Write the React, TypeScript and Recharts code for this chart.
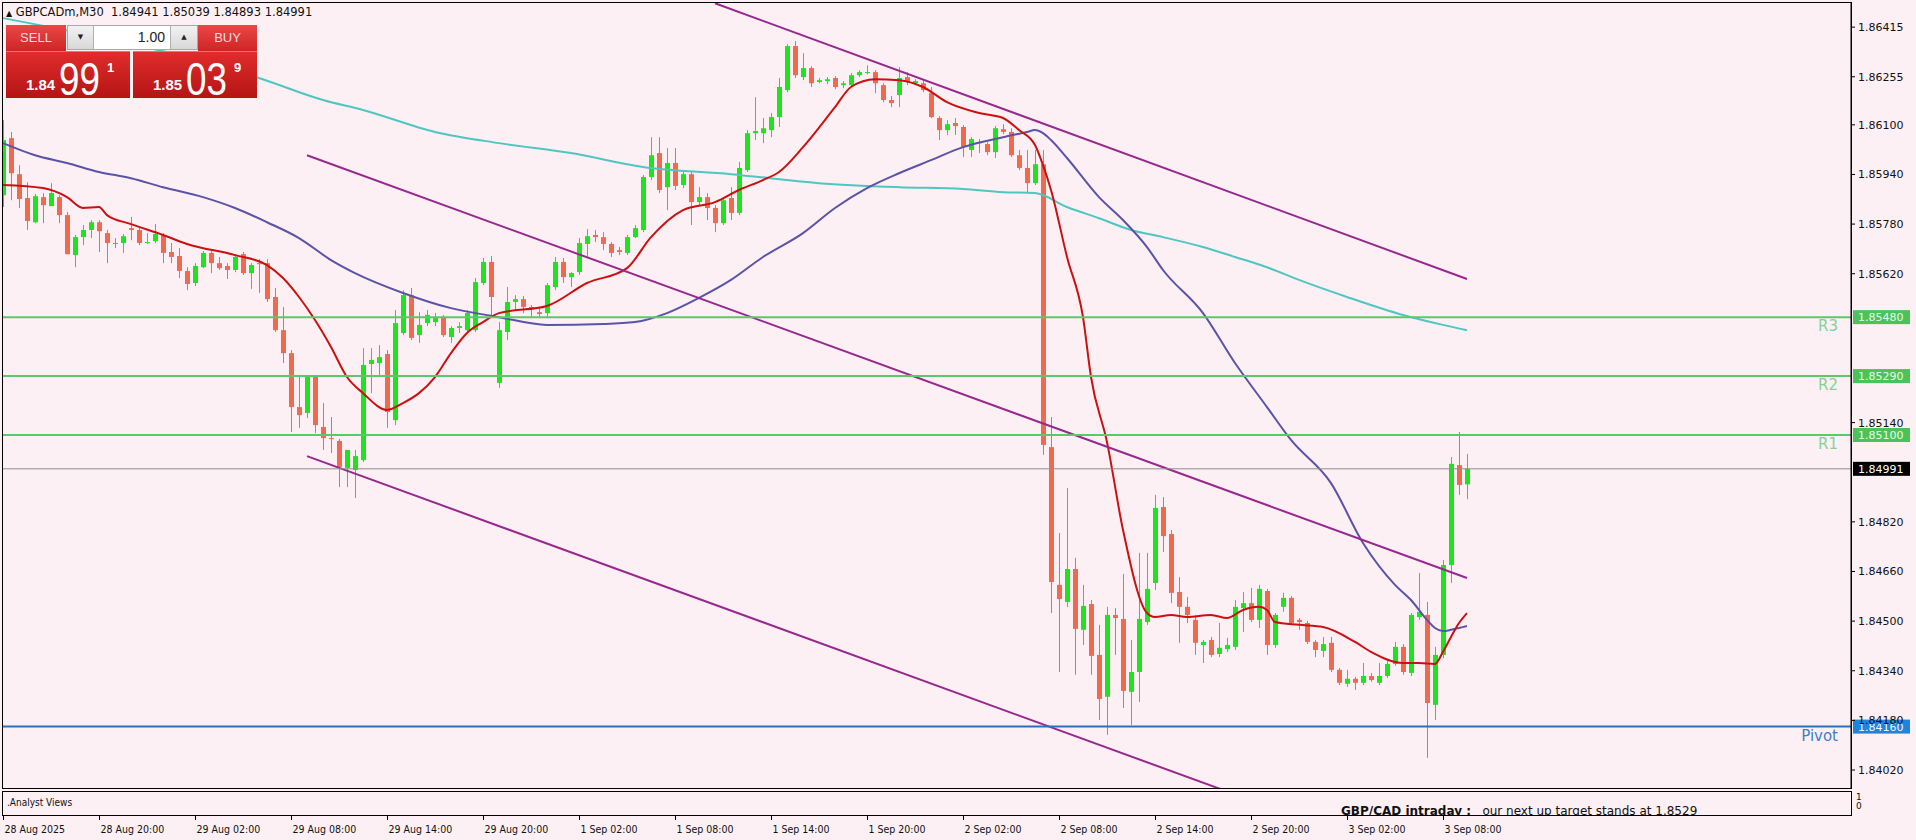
import { ComposedChart, Bar, Line, XAxis, YAxis, ReferenceLine } from "recharts";

// ---- candles (M30), index 0 = 28 Aug 14:00
const OPEN = [
  1.85873,1.86057,1.85941,1.85864,1.85786,1.85867,1.85838,1.85867,1.85809,1.85680,1.85738,1.85761,
  1.85786,1.85751,1.85719,1.85719,1.85767,1.85761,1.85719,1.85725,1.85745,1.85690,1.85677,1.85629,
  1.85590,1.85641,1.85687,1.85654,1.85645,1.85632,1.85683,1.85622,1.85654,1.85654,1.85545,1.85438,
  1.85364,1.85190,1.85171,1.85287,1.85126,1.85090,1.85081,1.84994,1.84987,1.85019,1.85329,1.85332,
  1.85361,1.85148,1.85429,1.85551,1.85422,1.85461,1.85464,1.85480,1.85416,1.85445,1.85438,1.85438,
  1.85590,1.85658,1.85268,1.85432,1.85529,1.85538,1.85513,1.85496,1.85493,1.85577,1.85658,1.85609,
  1.85625,1.85716,1.85745,1.85738,1.85716,1.85696,1.85687,1.85738,1.85761,1.85932,1.86009,1.85899,
  1.85977,1.85906,1.85941,1.85851,1.85867,1.85832,1.85783,1.85864,1.85816,1.85954,1.86073,1.86073,
  1.86083,1.86125,1.86212,1.86354,1.86254,1.86283,1.86238,1.86241,1.86251,1.86228,1.86228,1.86260,
  1.86267,1.86270,1.86228,1.86180,1.86196,1.86254,1.86234,1.86234,1.86202,1.86122,1.86083,1.86106,
  1.86093,1.86019,1.86044,1.86038,1.86012,1.86086,1.86077,1.86002,1.85961,1.85912,1.85973,1.85061,
  1.84617,1.84562,1.84668,1.84472,1.84555,1.84391,1.84256,1.84520,1.84507,1.84272,1.84336,1.84497,
  1.84623,1.84868,1.84781,1.84594,1.84546,1.84504,1.84423,1.84439,1.84394,1.84410,1.84417,1.84542,
  1.84558,1.84504,1.84597,1.84423,1.84546,1.84575,1.84504,1.84494,1.84433,1.84404,1.84430,1.84343,
  1.84298,1.84314,1.84301,1.84323,1.84301,1.84323,1.84362,1.84417,1.84333,1.84513,1.84520,1.84230,
  1.84391,1.84681,1.85003,1.84941,
];
const HIGH = [
  1.86115,1.86077,1.85970,1.85915,1.85877,1.85880,1.85912,1.85873,1.85819,1.85745,1.85777,1.85793,
  1.85793,1.85761,1.85735,1.85748,1.85803,1.85767,1.85751,1.85780,1.85751,1.85719,1.85703,1.85641,
  1.85654,1.85693,1.85693,1.85674,1.85654,1.85683,1.85690,1.85654,1.85667,1.85667,1.85574,1.85513,
  1.85374,1.85287,1.85293,1.85293,1.85203,1.85158,1.85087,1.85052,1.85052,1.85380,1.85380,1.85390,
  1.85374,1.85503,1.85567,1.85574,1.85496,1.85503,1.85493,1.85487,1.85451,1.85464,1.85503,1.85606,
  1.85671,1.85677,1.85464,1.85577,1.85551,1.85548,1.85519,1.85509,1.85590,1.85674,1.85671,1.85625,
  1.85735,1.85764,1.85761,1.85754,1.85722,1.85706,1.85745,1.85777,1.85938,1.86060,1.86060,1.86025,
  1.86025,1.85954,1.85948,1.85899,1.85880,1.85841,1.85867,1.85899,1.85980,1.86083,1.86189,1.86122,
  1.86138,1.86251,1.86360,1.86370,1.86331,1.86289,1.86251,1.86254,1.86257,1.86241,1.86267,1.86276,
  1.86292,1.86276,1.86234,1.86193,1.86286,1.86270,1.86247,1.86244,1.86222,1.86128,1.86115,1.86122,
  1.86099,1.86060,1.86054,1.86044,1.86096,1.86102,1.86089,1.86019,1.86019,1.86019,1.86019,1.85158,
  1.84784,1.84929,1.84704,1.84617,1.84568,1.84488,1.84546,1.84542,1.84652,1.84439,1.84720,1.84720,
  1.84907,1.84900,1.84794,1.84642,1.84578,1.84520,1.84439,1.84449,1.84494,1.84446,1.84568,1.84594,
  1.84607,1.84617,1.84604,1.84526,1.84591,1.84581,1.84510,1.84501,1.84439,1.84449,1.84449,1.84349,
  1.84343,1.84320,1.84365,1.84333,1.84365,1.84378,1.84433,1.84426,1.84526,1.84655,1.84562,1.84417,
  1.84697,1.85029,1.85110,1.85039,
];
const LOW = [
  1.85835,1.85857,1.85832,1.85761,1.85783,1.85783,1.85838,1.85783,1.85683,1.85641,1.85712,1.85735,
  1.85690,1.85654,1.85703,1.85687,1.85728,1.85712,1.85716,1.85719,1.85654,1.85654,1.85606,1.85567,
  1.85580,1.85638,1.85622,1.85632,1.85603,1.85625,1.85616,1.85571,1.85558,1.85529,1.85432,1.85332,
  1.85110,1.85123,1.85155,1.85106,1.85052,1.85042,1.84932,1.84932,1.84897,1.85013,1.85235,1.85293,
  1.85123,1.85132,1.85422,1.85406,1.85397,1.85451,1.85451,1.85416,1.85397,1.85429,1.85432,1.85432,
  1.85583,1.85480,1.85252,1.85406,1.85503,1.85493,1.85480,1.85480,1.85477,1.85567,1.85590,1.85577,
  1.85616,1.85674,1.85722,1.85696,1.85674,1.85680,1.85680,1.85735,1.85754,1.85922,1.85880,1.85825,
  1.85890,1.85896,1.85777,1.85841,1.85793,1.85754,1.85777,1.85793,1.85809,1.85948,1.86051,1.86041,
  1.86060,1.86093,1.86205,1.86251,1.86244,1.86222,1.86234,1.86231,1.86215,1.86218,1.86225,1.86254,
  1.86263,1.86202,1.86173,1.86157,1.86157,1.86228,1.86228,1.86205,1.86122,1.86051,1.86067,1.86067,
  1.85996,1.85996,1.86009,1.86002,1.85993,1.86070,1.85996,1.85954,1.85880,1.85906,1.85036,1.84526,
  1.84336,1.84546,1.84327,1.84423,1.84327,1.84181,1.84133,1.84391,1.84220,1.84165,1.84239,1.84488,
  1.84600,1.84723,1.84558,1.84430,1.84494,1.84391,1.84365,1.84384,1.84384,1.84401,1.84407,1.84465,
  1.84497,1.84478,1.84391,1.84414,1.84530,1.84488,1.84472,1.84426,1.84384,1.84384,1.84336,1.84294,
  1.84288,1.84278,1.84294,1.84304,1.84294,1.84317,1.84356,1.84327,1.84323,1.84504,1.84059,1.84181,
  1.84381,1.84623,1.84907,1.84893,
];
const CLOSE = [
  1.86051,1.85944,1.85861,1.85790,1.85870,1.85841,1.85880,1.85809,1.85683,1.85738,1.85761,1.85786,
  1.85757,1.85719,1.85716,1.85741,1.85761,1.85719,1.85722,1.85748,1.85687,1.85674,1.85629,1.85587,
  1.85645,1.85687,1.85654,1.85638,1.85632,1.85674,1.85622,1.85648,1.85651,1.85538,1.85438,1.85364,
  1.85190,1.85164,1.85287,1.85132,1.85090,1.85087,1.84997,1.85052,1.85032,1.85326,1.85342,1.85351,
  1.85174,1.85461,1.85551,1.85413,1.85455,1.85487,1.85480,1.85422,1.85445,1.85451,1.85493,1.85593,
  1.85658,1.85545,1.85438,1.85529,1.85538,1.85513,1.85506,1.85490,1.85583,1.85658,1.85609,1.85622,
  1.85719,1.85741,1.85738,1.85716,1.85687,1.85690,1.85738,1.85767,1.85932,1.86002,1.85890,1.85977,
  1.85903,1.85941,1.85851,1.85867,1.85832,1.85783,1.85857,1.85816,1.85961,1.86073,1.86080,1.86089,
  1.86125,1.86222,1.86354,1.86260,1.86283,1.86234,1.86244,1.86247,1.86222,1.86234,1.86260,1.86270,
  1.86270,1.86234,1.86180,1.86170,1.86251,1.86238,1.86241,1.86212,1.86125,1.86083,1.86102,1.86096,
  1.86028,1.86054,1.86041,1.86012,1.86089,1.86077,1.86002,1.85961,1.85912,1.85973,1.85068,1.84626,
  1.84571,1.84668,1.84475,1.84549,1.84388,1.84249,1.84520,1.84510,1.84275,1.84336,1.84507,1.84604,
  1.84865,1.84774,1.84591,1.84546,1.84520,1.84430,1.84433,1.84391,1.84414,1.84423,1.84546,1.84558,
  1.84504,1.84604,1.84423,1.84520,1.84575,1.84494,1.84497,1.84433,1.84407,1.84426,1.84343,1.84301,
  1.84314,1.84301,1.84323,1.84310,1.84323,1.84362,1.84417,1.84336,1.84520,1.84530,1.84236,1.84391,
  1.84681,1.85007,1.84939,1.84991,
];

// ---- moving averages (bar index, price)
const MA_FAST_K = [0,5,8,10,12,13,16,20,23,29,33,35,37,39,41,43,45,48,50,52,54,56,58,60,62,68,73,78,81,85,89,92,95,97,100,104,106,109,112,115,118,122,125,127,129,130,131,133,135,136,138,140,143,144,146,148,151,153,155,157,158,159,162,165,169,171,175,177,179,180,181,182,183];
const MA_FAST = [1.85906,1.85896,1.85867,1.85832,1.85835,1.85809,1.85780,1.85745,1.85716,1.85680,1.85648,1.85606,1.85545,1.85471,1.85384,1.85287,1.85235,1.85181,1.85203,1.85235,1.85287,1.85364,1.85429,1.85464,1.85493,1.85516,1.85590,1.85638,1.85738,1.85825,1.85851,1.85890,1.85922,1.85948,1.86028,1.86157,1.86222,1.86247,1.86244,1.86222,1.86173,1.86138,1.86122,1.86083,1.86035,1.85970,1.85890,1.85674,1.85480,1.85287,1.85077,1.84794,1.84526,1.84513,1.84520,1.84513,1.84520,1.84510,1.84536,1.84546,1.84536,1.84497,1.84488,1.84481,1.84433,1.84401,1.84365,1.84365,1.84362,1.84401,1.84449,1.84494,1.84526];

const MA_SLOW_K = [0,4,8,12,16,20,25,29,33,37,41,44,50,56,62,68,75,79,83,87,91,95,100,104,108,112,116,120,125,128,129,130,131,133,137,140,143,145,150,154,158,161,166,170,174,176,178,179,180,181,182,183];
const MA_SLOW = [1.86041,1.86002,1.85977,1.85948,1.85928,1.85899,1.85867,1.85832,1.85786,1.85735,1.85664,1.85622,1.85558,1.85509,1.85480,1.85455,1.85458,1.85464,1.85493,1.85542,1.85600,1.85674,1.85751,1.85832,1.85896,1.85944,1.85986,1.86028,1.86060,1.86077,1.86083,1.86073,1.86051,1.85993,1.85867,1.85793,1.85706,1.85632,1.85493,1.85332,1.85190,1.85084,1.84945,1.84752,1.84617,1.84568,1.84504,1.84478,1.84468,1.84472,1.84478,1.84484];

const MA_LONG_K = [0,32,40,45,54,62,71,80,91,102,112,120,125,129,133,137,141,145,150,154,158,162,168,175,180,183];
const MA_LONG = [1.86444,1.86251,1.86180,1.86148,1.86077,1.86041,1.86009,1.85964,1.85941,1.85912,1.85899,1.85893,1.85883,1.85880,1.85835,1.85799,1.85761,1.85738,1.85706,1.85674,1.85641,1.85600,1.85545,1.85487,1.85455,1.85438];

// ---- channel trendlines
const UPPER_K = [89, 183];
const UPPER = [1.86492, 1.85603];
const MIDDLE_K = [38, 183];
const MIDDLE = [1.86002, 1.84639];
const LOWER_K = [38, 183];
const LOWER = [1.85032, 1.83669];

// ---- levels
const R3 = 1.8548;
const R2 = 1.8529;
const R1 = 1.851;
const PIVOT = 1.8416;
const LAST = 1.84991;

const TIME_TICKS = [0, 12, 24, 36, 48, 60, 72, 84, 96, 108, 120, 132, 144, 156, 168, 180];
const TIME_LABELS = [
  "28 Aug 2025", "28 Aug 20:00", "29 Aug 02:00", "29 Aug 08:00", "29 Aug 14:00", "29 Aug 20:00",
  "1 Sep 02:00", "1 Sep 08:00", "1 Sep 14:00", "1 Sep 20:00", "2 Sep 02:00", "2 Sep 08:00",
  "2 Sep 14:00", "2 Sep 20:00", "3 Sep 02:00", "3 Sep 08:00",
];
const PRICE_TICKS = [1.86415, 1.86255, 1.861, 1.8594, 1.8578, 1.8562, 1.8514, 1.8482, 1.8466, 1.845, 1.8434, 1.8418, 1.8402];

const BG = "#fdf0f4";
const BULL = "#1ee31e";
const BEAR = "#f06a52";
const FONT = "'DejaVu Sans', Verdana, sans-serif";
const NARROW = "'DejaVu Sans Condensed', 'Liberation Sans Narrow', 'DejaVu Sans', sans-serif";

const candles = OPEN.map((o, i) => ({ k: i, o, h: HIGH[i], l: LOW[i], c: CLOSE[i] }));
const series = (ks: number[], ps: number[]) => ks.map((k, i) => ({ k, p: ps[i] }));

function Candle(props: any) {
  const { x, y, width, height, payload } = props;
  if (x == null || y == null) return null;
  const { o, h, l, c } = payload;
  const top = Math.min(y, y + height);
  const bot = Math.max(y, y + height);
  const span = h - l || 1e-9;
  const py = (p: number) => top + ((h - p) / span) * (bot - top);
  const color = c >= o ? BULL : BEAR;
  const cx = Math.round(x + width / 2) + 0.5;
  const bTop = py(Math.max(o, c));
  const bBot = py(Math.min(o, c));
  return (
    <g>
      <line x1={cx} x2={cx} y1={top} y2={bot} stroke={color} strokeWidth={1} />
      <rect x={cx - 2.5} y={bTop} width={5} height={Math.max(1, bBot - bTop)} fill={color} />
    </g>
  );
}

function TimeTick(props: any) {
  const { x, payload } = props;
  const label = TIME_LABELS[TIME_TICKS.indexOf(payload.value)];
  const tx = Math.round(x) + 0.5;
  return (
    <g>
      <line x1={tx} x2={tx} y1={816} y2={820} stroke="#000" />
      <text x={tx + 1} y={833} fontSize={10.5} fontFamily={NARROW} fill="#111">{label}</text>
    </g>
  );
}

function PriceTick(props: any) {
  const { y, payload } = props;
  return (
    <text x={1858} y={y + 4} fontSize={11} fontFamily={FONT} fill="#111">
      {payload.value.toFixed(5)}
    </text>
  );
}

function LevelTag(props: any) {
  const { viewBox, name, value, fill, textColor, nameColor } = props;
  if (!viewBox) return null;
  const y = viewBox.y;
  const right = viewBox.x + viewBox.width;
  return (
    <g>
      {name ? (
        <text x={right - 13} y={y + 14} textAnchor="end" fontSize={15} fontFamily={FONT} fill={nameColor}>{name}</text>
      ) : null}
      <rect x={right + 2} y={y - 7} width={57} height={14} fill={fill} />
      <text x={right + 7} y={y + 4} fontSize={11} fontFamily={FONT} fill={textColor}>{value}</text>
    </g>
  );
}

export default function App() {
  return (
    <div style={{ position: "absolute", left: 0, top: 0, width: 1916, height: 840, background: BG, overflow: "hidden", fontFamily: FONT }}>
      <ComposedChart width={1916} height={840} data={candles} margin={{ top: 2, right: 0, bottom: 0, left: 2 }}>
        <XAxis dataKey="k" type="number" domain={[-0.125, 231]} allowDataOverflow ticks={TIME_TICKS} interval={0}
          height={52} axisLine={false} tickLine={false} tick={(p: any) => <TimeTick {...p} />} />
        <YAxis orientation="right" type="number" domain={[1.83962, 1.86496]} allowDataOverflow ticks={PRICE_TICKS} interval={0}
          width={65} tickSize={4} tickLine={{ stroke: "#000" }} axisLine={{ stroke: "#000" }} tick={(p: any) => <PriceTick {...p} />} />
        <Bar dataKey={(d: any) => [d.l, d.h]} barSize={5} isAnimationActive={false} shape={(p: any) => <Candle {...p} />} />
        <Line data={series(MA_LONG_K, MA_LONG)} dataKey="p" type="monotone" stroke="#4fc6c0" strokeWidth={2} dot={false} isAnimationActive={false} />
        <Line data={series(MA_SLOW_K, MA_SLOW)} dataKey="p" type="monotone" stroke="#5a53a8" strokeWidth={2} dot={false} isAnimationActive={false} />
        <Line data={series(MA_FAST_K, MA_FAST)} dataKey="p" type="monotone" stroke="#cc1010" strokeWidth={2} dot={false} isAnimationActive={false} />
        <Line data={series(UPPER_K, UPPER)} dataKey="p" type="linear" stroke="#98288f" strokeWidth={2} dot={false} isAnimationActive={false} />
        <Line data={series(MIDDLE_K, MIDDLE)} dataKey="p" type="linear" stroke="#98288f" strokeWidth={2} dot={false} isAnimationActive={false} />
        <Line data={series(LOWER_K, LOWER)} dataKey="p" type="linear" stroke="#98288f" strokeWidth={2} dot={false} isAnimationActive={false} />
        <ReferenceLine y={R3} stroke="#5cc86a" strokeWidth={2}
          label={<LevelTag name="R3" value="1.85480" fill="#4cc35a" textColor="#e4fbe7" nameColor="#86d294" />} />
        <ReferenceLine y={R2} stroke="#5cc86a" strokeWidth={2}
          label={<LevelTag name="R2" value="1.85290" fill="#4cc35a" textColor="#e4fbe7" nameColor="#86d294" />} />
        <ReferenceLine y={R1} stroke="#5cc86a" strokeWidth={2}
          label={<LevelTag name="R1" value="1.85100" fill="#4cc35a" textColor="#e4fbe7" nameColor="#86d294" />} />
        <ReferenceLine y={LAST} stroke="#8e8e8e" strokeWidth={1}
          label={<LevelTag value="1.84991" fill="#000" textColor="#fff" />} />
        <ReferenceLine y={PIVOT} stroke="#2670bf" strokeWidth={2}
          label={<LevelTag name="Pivot" value="1.84160" fill="#1e84e0" textColor="#f2f8ff" nameColor="#3a7fd0" />} />
      </ComposedChart>

      {/* frames */}
      <div style={{ position: "absolute", left: 2, top: 2, width: 1850, height: 787, border: "1px solid #000", boxSizing: "border-box", pointerEvents: "none" }} />
      <div style={{ position: "absolute", left: 2, top: 791, width: 1850, height: 25, border: "1px solid #000", boxSizing: "border-box", overflow: "hidden" }}>
        <div style={{ position: "absolute", left: 4, top: 5, fontSize: 10, fontFamily: NARROW, color: "#111" }}>.Analyst Views</div>
        <div style={{ position: "absolute", left: 1338, top: 12, fontSize: 12, fontFamily: FONT, color: "#111", whiteSpace: "pre" }}>
          <b>GBP/CAD intraday :</b>{"   our next up target stands at 1.8529"}
        </div>
      </div>
      <div style={{ position: "absolute", left: 1856, top: 793, fontSize: 9, lineHeight: "9px", color: "#111" }}>1<br />0</div>

      {/* header */}
      <div style={{ position: "absolute", left: 6, top: 5, fontSize: 11.5, lineHeight: "14px", color: "#111", whiteSpace: "pre" }}>
        <span style={{ fontSize: 8 }}>▲</span>{" GBPCADm,M30  1.84941 1.85039 1.84893 1.84991"}
      </div>

      {/* one-click trading panel */}
      <div style={{ position: "absolute", left: 6, top: 25, width: 60, height: 26, background: "linear-gradient(#e94848,#cf2424)", color: "#ffd9d9", fontFamily: "'Liberation Sans', sans-serif", fontSize: 13, lineHeight: "26px", textAlign: "center" }}>SELL</div>
      <div style={{ position: "absolute", left: 67, top: 25, width: 131, height: 25, background: "#fff", border: "1px solid #a8a8a8", boxSizing: "border-box" }}>
        <div style={{ position: "absolute", left: 0, top: 0, width: 25, height: 23, background: "linear-gradient(#f2f2f2,#d8d8d8)", borderRight: "1px solid #b0b0b0", fontSize: 7, lineHeight: "23px", textAlign: "center", color: "#222" }}>▼</div>
        <div style={{ position: "absolute", right: 32, top: 0, height: 23, fontFamily: "'Liberation Sans', sans-serif", fontSize: 14, lineHeight: "23px", color: "#222" }}>1.00</div>
        <div style={{ position: "absolute", right: 0, top: 0, width: 26, height: 23, background: "linear-gradient(#f2f2f2,#d8d8d8)", borderLeft: "1px solid #b0b0b0", fontSize: 7, lineHeight: "23px", textAlign: "center", color: "#222" }}>▲</div>
      </div>
      <div style={{ position: "absolute", left: 198, top: 25, width: 59, height: 26, background: "linear-gradient(#e94848,#cf2424)", color: "#ffd9d9", fontFamily: "'Liberation Sans', sans-serif", fontSize: 13, lineHeight: "26px", textAlign: "center" }}>BUY</div>
      {[{ left: 6, a: "1.84", b: "99", c: "1" }, { left: 133, a: "1.85", b: "03", c: "9" }].map((q) => (
        <div key={q.left} style={{ position: "absolute", left: q.left, top: 51, width: 124, height: 46, background: "linear-gradient(#e02c2c,#b51515)", color: "#fff", fontFamily: "'Liberation Sans', sans-serif", borderTop: "1px solid #f07070" }}>
          <span style={{ position: "absolute", left: 20, top: 25, fontSize: 15, lineHeight: "15px", fontWeight: "bold" }}>{q.a}</span>
          <span style={{ position: "absolute", left: 53, top: 4, fontSize: 46, lineHeight: "46px", transform: "scaleX(0.8)", transformOrigin: "left top", whiteSpace: "nowrap" }}>{q.b}</span>
          <span style={{ position: "absolute", left: 101, top: 9, fontSize: 13, lineHeight: "13px", fontWeight: "bold" }}>{q.c}</span>
        </div>
      ))}
    </div>
  );
}
